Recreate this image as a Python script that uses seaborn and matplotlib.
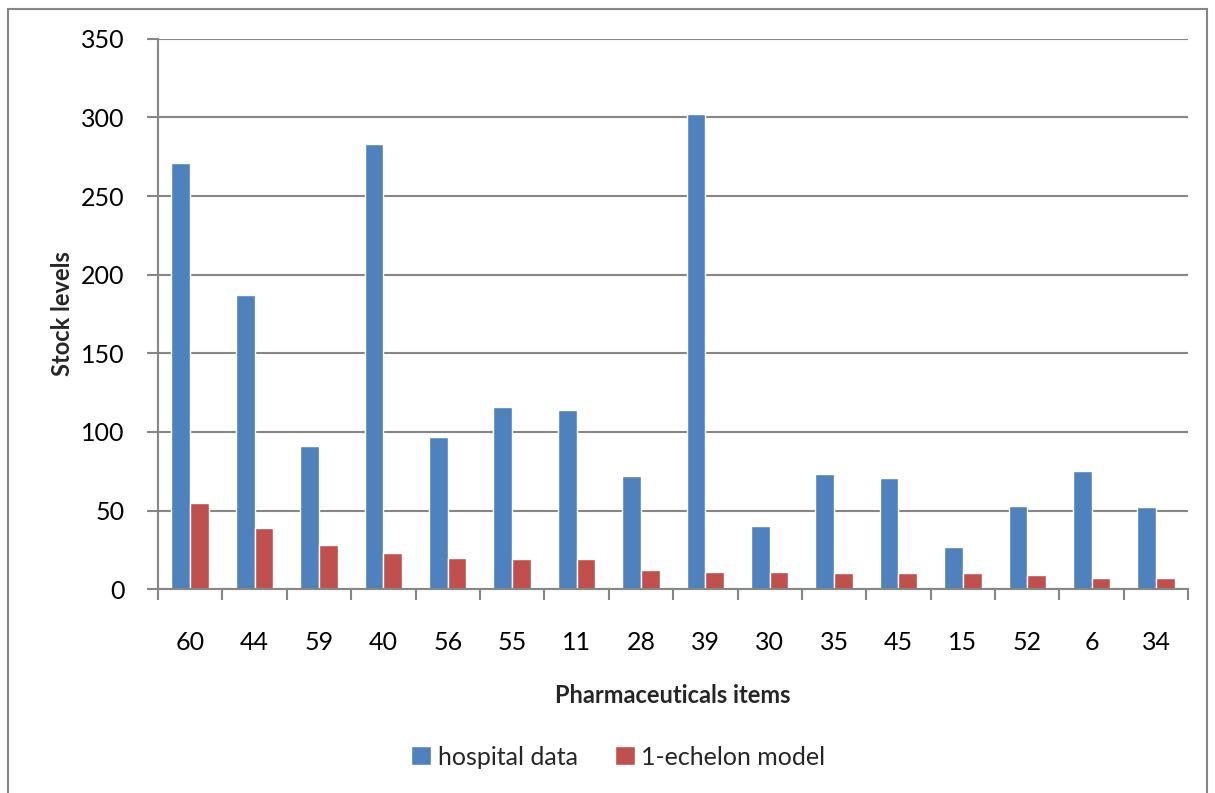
import numpy as np
import pandas as pd
import matplotlib
matplotlib.use("Agg")
import matplotlib.pyplot as plt
from matplotlib.patches import Rectangle
import seaborn as sns

items = ["60", "44", "59", "40", "56", "55", "11", "28",
         "39", "30", "35", "45", "15", "52", "6", "34"]
hospital_data = [271, 187, 91, 283, 97, 116, 114, 72,
                 302, 40, 73, 71, 27, 53, 75, 52]
echelon_model = [55, 39, 28, 23, 20, 19, 19, 12,
                 11, 11, 10, 10, 10, 9, 7, 7]
series_names = ["hospital data", "1-echelon model"]
colors = ["#4F81BD", "#C0504D"]

df = pd.DataFrame({"item": items * 2,
                   "value": hospital_data + echelon_model,
                   "series": [series_names[0]] * len(items) + [series_names[1]] * len(items)})

sns.set_theme(style="white")
plt.rcParams["font.family"] = ["Lato", "DejaVu Sans"]

fig = plt.figure(figsize=(12.15, 7.93), dpi=100)
ax = fig.add_axes([0.130, 0.257, 0.848, 0.694])

sns.barplot(data=df, x="item", y="value", hue="series", order=items,
            hue_order=series_names, palette=colors, width=0.58,
            saturation=1, ax=ax, legend=True)

gridc = "#868686"
ax.set_ylim(0, 350)
ax.set_yticks(np.arange(0, 351, 50))
ax.yaxis.grid(True, color=gridc, linewidth=1.5)
ax.set_axisbelow(True)
ax.set_xlim(-0.5, len(items) - 0.5)
for s in ["top", "right"]:
    ax.spines[s].set_visible(False)
for s in ["left", "bottom"]:
    ax.spines[s].set_color(gridc)
    ax.spines[s].set_linewidth(1.5)

# ticks between categories
ax.set_xticks(np.arange(-0.5, len(items), 1.0), minor=True)
ax.tick_params(axis="x", which="major", bottom=True, length=0, labelsize=18, pad=30,
               labelcolor="black")
ax.tick_params(axis="x", which="minor", bottom=True, length=8, width=1.5, color=gridc,
               direction="out")
ax.tick_params(axis="y", which="major", left=True, length=8, width=1.5, color=gridc,
               direction="out", labelsize=18, pad=16, labelcolor="black")

ax.set_xlabel("Pharmaceuticals items", fontsize=17, fontweight="bold", labelpad=22)
ax.set_ylabel("Stock levels", fontsize=17, fontweight="bold", labelpad=5)

leg = ax.legend(loc="center", bbox_to_anchor=(0.447, -0.305), ncol=2, frameon=False,
                fontsize=18, handlelength=0.8, handleheight=0.8, handletextpad=0.25,
                columnspacing=1.5)

# outer chart border
fig.patches.append(Rectangle((8 / 1215, -0.01), 1199 / 1215, 1 - 9 / 793 + 0.01,
                             transform=fig.transFigure, fill=False,
                             edgecolor=gridc, linewidth=1.5))

fig.savefig("out.png", dpi=100)
